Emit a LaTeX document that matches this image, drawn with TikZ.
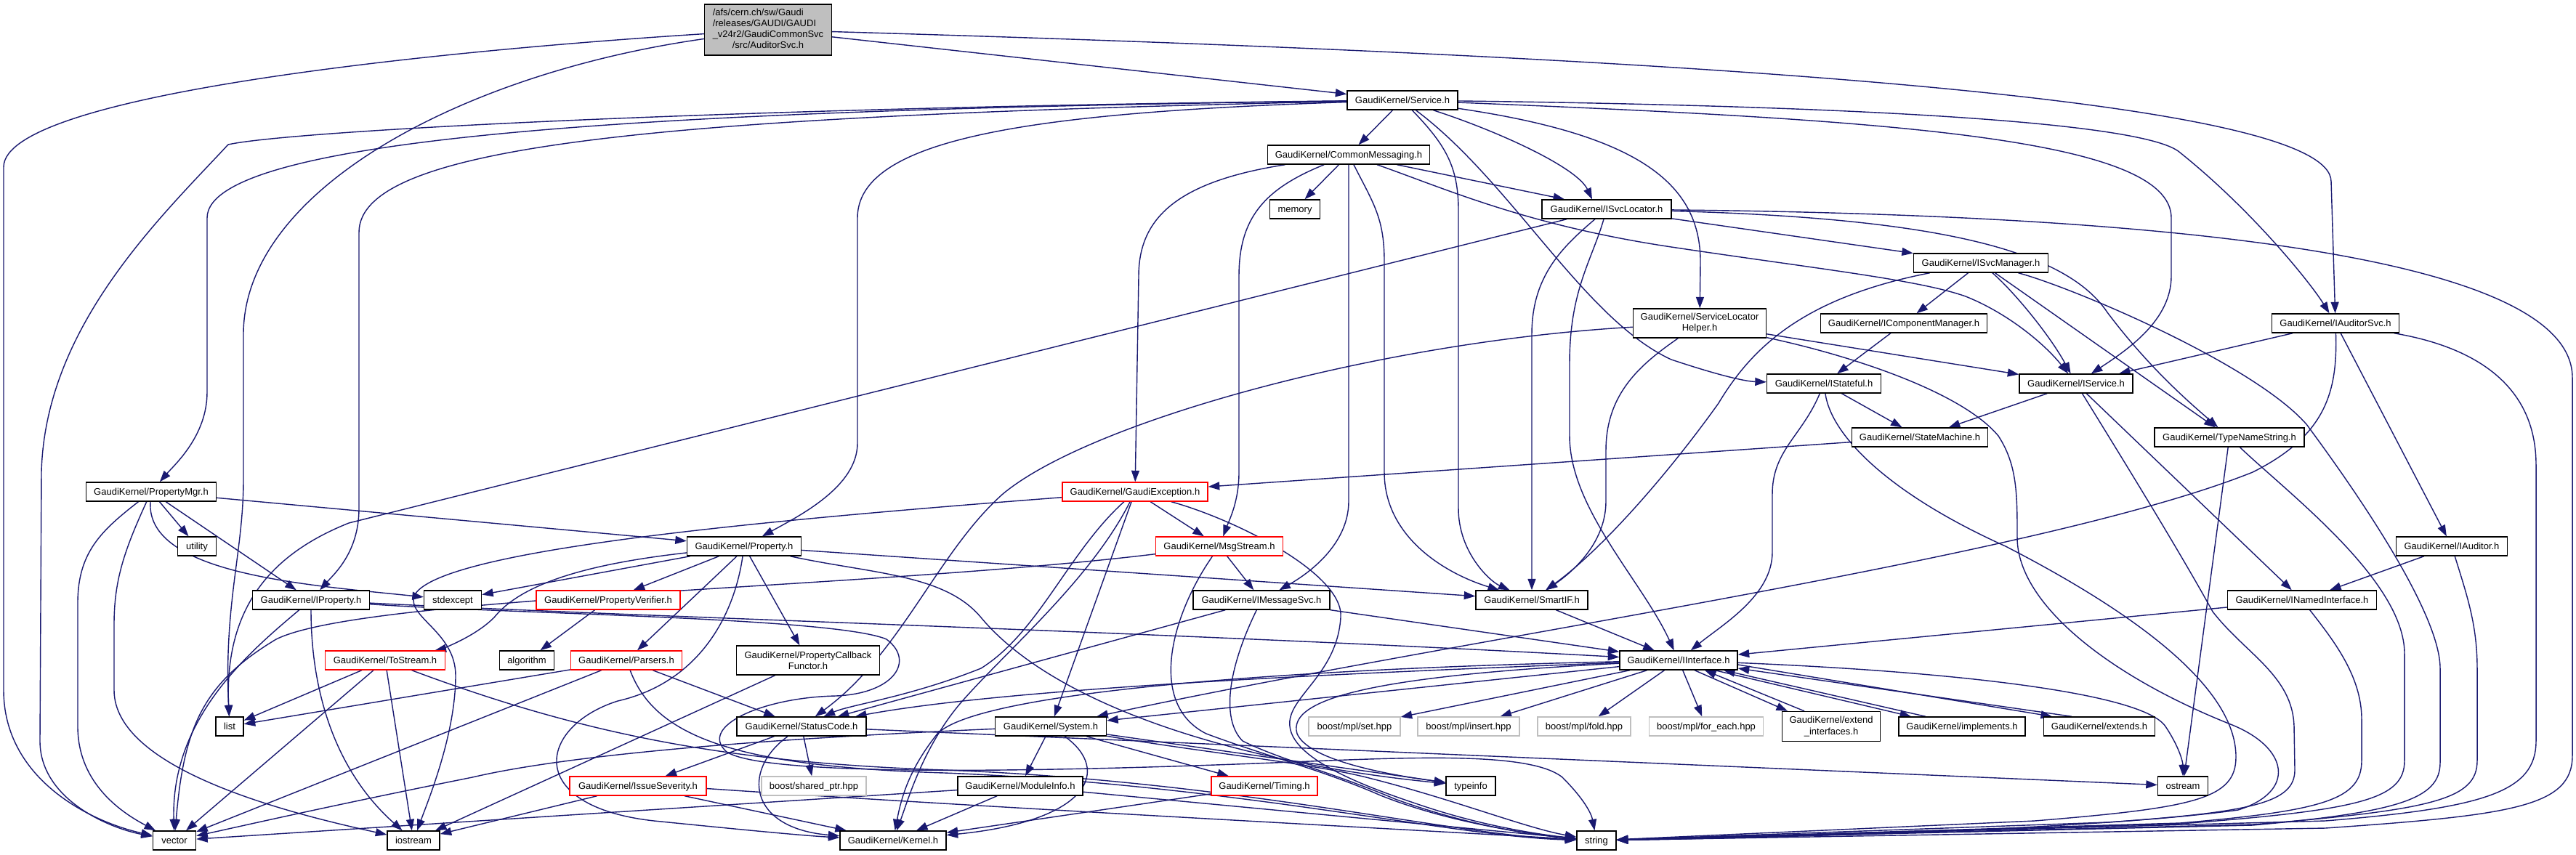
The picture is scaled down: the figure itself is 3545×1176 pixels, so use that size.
\documentclass[tikz,border=0pt]{standalone}
\usepackage{fontspec}
\setmainfont{Liberation Sans}
\usetikzlibrary{arrows.meta}
\definecolor{edgec}{HTML}{191970}
\definecolor{rootfill}{HTML}{BFBFBF}
\definecolor{lgray}{HTML}{BFBFBF}
\newcommand\gfont{\fontsize{3.7pt}{4.3pt}\selectfont}
\pgfdeclarelayer{bgfill}
\pgfdeclarelayer{edges}
\pgfsetlayers{bgfill,edges,main}
\tikzset{
  boxbase/.style={draw=black, fill=white, line width=0.4pt, inner sep=0pt, minimum height=2.6mm, font=\gfont},
  nbox/.style={boxbase, text height=2.7pt, text depth=0.3pt},
  rbox/.style={nbox, draw=red},
  gbox/.style={nbox, draw=lgray},
  mbox/.style={boxbase, align=center, minimum height=4mm},
  edg/.style={draw=edgec, line width=0.4pt, -{Triangle[length=1.55mm,width=1.1mm]}},
}
\begin{document}
\begin{tikzpicture}[x=0.1mm, y=-0.1mm]
\begin{pgfonlayer}{bgfill}
\fill[white] (0,0) rectangle (3545,1176);
\end{pgfonlayer}
\useasboundingbox (0,0) rectangle (3545,1176);

% ---------- nodes ----------
\node[boxbase, fill=rootfill, minimum width=17.45mm, minimum height=7mm] (R) at (1057,41)
  {\begin{tabular}{@{}l@{}}/afs/cern.ch/sw/Gaudi\\/releases/GAUDI/GAUDI\\\_v24r2/GaudiCommonSvc\\\multicolumn{1}{@{}c@{}}{/src/AuditorSvc.h}\end{tabular}};
\node[nbox, minimum width=15.2mm] (Sv) at (1930,138) {GaudiKernel/Service.h};
\node[nbox, minimum width=22.3mm] (CM) at (1856,213) {GaudiKernel/CommonMessaging.h};
\node[nbox, minimum width=6.9mm] (mem) at (1782,288) {memory};
\node[nbox, minimum width=17.8mm] (SL) at (2211,288) {GaudiKernel/ISvcLocator.h};
\node[mbox, minimum width=18.3mm] (SLH) at (2339,445) {GaudiKernel/ServiceLocator\\Helper.h};
\node[nbox, minimum width=18.5mm] (SM) at (2726,362) {GaudiKernel/ISvcManager.h};
\node[nbox, minimum width=22.9mm] (ICM) at (2620,445) {GaudiKernel/IComponentManager.h};
\node[nbox, minimum width=17.5mm] (AS) at (3214,445) {GaudiKernel/IAuditorSvc.h};
\node[nbox, minimum width=15.7mm] (ISt) at (2510,528) {GaudiKernel/IStateful.h};
\node[nbox, minimum width=15.6mm] (IS) at (2857,528) {GaudiKernel/IService.h};
\node[nbox, minimum width=18.7mm] (StM) at (2642,602) {GaudiKernel/StateMachine.h};
\node[nbox, minimum width=20.6mm] (TNS) at (3068,602) {GaudiKernel/TypeNameString.h};
\node[nbox, minimum width=15.3mm] (IA) at (3374,752) {GaudiKernel/IAuditor.h};
\node[nbox, minimum width=20.5mm] (INI) at (3168,826) {GaudiKernel/INamedInterface.h};
\node[nbox, minimum width=16.2mm] (II) at (2310,909) {GaudiKernel/IInterface.h};
\node[gbox, minimum width=15.7mm] (FE) at (2348,1000) {boost/mpl/for\_each.hpp};
\node[mbox, minimum width=13.5mm, minimum height=4.1mm] (EI) at (2520,1000) {GaudiKernel/extend\\\_interfaces.h};
\node[nbox, minimum width=17.4mm] (Imp) at (2700,1000) {GaudiKernel/implements.h};
\node[nbox, minimum width=15.3mm] (Ext) at (2889,1000) {GaudiKernel/extends.h};
\node[nbox, minimum width=6.9mm] (ost) at (3004,1082) {ostream};
\node[nbox, minimum width=5.4mm] (str) at (2197,1157) {string};
\node[rbox, minimum width=20.0mm] (GE) at (1562,677) {GaudiKernel/GaudiException.h};
\node[rbox, minimum width=17.5mm] (MS) at (1678,752) {GaudiKernel/MsgStream.h};
\node[nbox, minimum width=18.8mm] (IMS) at (1736,826) {GaudiKernel/IMessageSvc.h};
\node[nbox, minimum width=15.4mm] (SIF) at (2108,826) {GaudiKernel/SmartIF.h};
\node[nbox, minimum width=15.3mm] (Sys) at (1446,1000) {GaudiKernel/System.h};
\node[gbox, minimum width=12.6mm] (set) at (1864,1000) {boost/mpl/set.hpp};
\node[gbox, minimum width=14.0mm] (ins) at (2021,1000) {boost/mpl/insert.hpp};
\node[gbox, minimum width=12.8mm] (fold) at (2180,1000) {boost/mpl/fold.hpp};
\node[nbox, minimum width=17.2mm] (MI) at (1404,1082) {GaudiKernel/ModuleInfo.h};
\node[rbox, minimum width=14.6mm] (Tim) at (1740,1082) {GaudiKernel/Timing.h};
\node[nbox, minimum width=6.8mm] (ti) at (2024,1082) {typeinfo};
\node[nbox, minimum width=14.6mm] (Ker) at (1229,1157) {GaudiKernel/Kernel.h};
\node[nbox, minimum width=17.8mm] (SC) at (1103,1000) {GaudiKernel/StatusCode.h};
\node[nbox, minimum width=17.9mm] (PM) at (208,677) {GaudiKernel/PropertyMgr.h};
\node[nbox, minimum width=5.3mm] (util) at (271,752) {utility};
\node[nbox, minimum width=15.7mm] (Prop) at (1024,752) {GaudiKernel/Property.h};
\node[nbox, minimum width=16.1mm] (IP) at (428,826) {GaudiKernel/IProperty.h};
\node[nbox, minimum width=7.9mm] (sexc) at (623,826) {stdexcept};
\node[rbox, minimum width=19.8mm] (PV) at (837,826) {GaudiKernel/PropertyVerifier.h};
\node[rbox, minimum width=16.5mm] (TS) at (530,909) {GaudiKernel/ToStream.h};
\node[nbox, minimum width=7.5mm] (alg) at (725,909) {algorithm};
\node[rbox, minimum width=15.3mm] (Pars) at (862,909) {GaudiKernel/Parsers.h};
\node[mbox, minimum width=19.7mm] (PCF) at (1112,909) {GaudiKernel/PropertyCallback\\Functor.h};
\node[nbox, minimum width=3.8mm] (list) at (316,1000) {list};
\node[rbox, minimum width=18.8mm] (ISev) at (878,1082) {GaudiKernel/IssueSeverity.h};
\node[gbox, minimum width=14.4mm] (shp) at (1120,1082) {boost/shared\_ptr.hpp};
\node[nbox, minimum width=5.9mm] (vec) at (240,1157) {vector};
\node[nbox, minimum width=7.2mm] (ios) at (569,1157) {iostream};

\begin{pgfonlayer}{edges}
% ---------- edges: root ----------
\draw[edg] (R) .. controls (600,70) and (5,130) .. (5,230) -- (5,950) .. controls (5,1070) and (120,1130) .. (vec);
\draw[edg] (R) .. controls (640,100) and (335,260) .. (335,460) -- (335,660) .. controls (335,760) and (308,830) .. (list);
\draw[edg] (R) -- (Sv);
\draw[edg] (R) .. controls (2400,80) and (3208,140) .. (3208,250) -- (AS);

% ---------- Service.h ----------
\draw[edg] (Sv) -- (CM);
\draw[edg] (Sv) .. controls (2060,180) and (2170,230) .. ([xshift=-2mm]SL.north);
\draw[edg] (Sv) .. controls (2250,185) and (2340,250) .. (2340,360) -- (SLH);
\draw[edg] (Sv) .. controls (1990,200) and (2007,230) .. (2007,290) -- (2007,700) .. controls (2007,760) and (2050,800) .. (SIF);
\draw[edg] (Sv) .. controls (2080,250) and (2180,440) .. (2300,495) .. controls (2360,515) and (2400,525) .. (ISt);
\draw[edg] (Sv) .. controls (2600,165) and (2988,190) .. (2988,300) -- (2988,380) .. controls (2988,440) and (2930,480) .. (IS);
\draw[edg] (Sv) .. controls (2500,145) and (2950,165) .. (3000,210) .. controls (3100,290) and (3180,390) .. (AS);
\draw[edg] (Sv) .. controls (1420,155) and (1180,190) .. (1180,300) -- (1180,610) .. controls (1180,670) and (1100,710) .. (Prop);
\draw[edg] (Sv) .. controls (1000,150) and (285,180) .. (285,300) -- (285,540) .. controls (285,600) and (240,640) .. (PM);
\draw[edg] (Sv) .. controls (900,160) and (494,200) .. (494,320) -- (494,700) .. controls (494,760) and (460,790) .. (IP);
\draw[edg] (Sv) .. controls (1000,148) and (400,180) .. (314,199) .. controls (220,300) and (62,450) .. (57,650) -- (55,1020) .. controls (55,1100) and (150,1140) .. (vec);

% ---------- CommonMessaging.h ----------
\draw[edg] (CM) .. controls (1620,250) and (1567,300) .. (1567,380) -- (GE);
\draw[edg] (CM) .. controls (1740,260) and (1705,300) .. (1705,380) -- (1705,650) .. controls (1705,690) and (1692,715) .. (MS);
\draw[edg] (CM) -- (mem);
\draw[edg] (CM.south) -- (1856,690) .. controls (1856,750) and (1800,790) .. (IMS);
\draw[edg] (CM) .. controls (1890,280) and (1905,300) .. (1905,360) -- (1905,650) .. controls (1905,740) and (1990,790) .. (SIF);
\draw[edg] (CM) .. controls (1990,260) and (2100,310) .. (2300,340) .. controls (2500,370) and (2640,385) .. (2705,408) .. controls (2765,432) and (2815,475) .. (IS);
\draw[edg] (CM) -- ([xshift=-5.8mm]SL.north);

% ---------- ISvcLocator.h ----------
\draw[edg] (SL) -- (SM);
\draw[edg] (SL) .. controls (2650,300) and (2840,340) .. (2900,430) .. controls (2960,510) and (3020,560) .. (TNS);
\draw[edg] (SL) .. controls (2900,295) and (3540,340) .. (3540,520) -- (3540,1040) .. controls (3540,1110) and (3460,1122) .. (3200,1140) -- (str);
\draw[edg] (SL) -- (480,720) .. controls (380,760) and (308,830) .. (list);
\draw[edg] (SL) .. controls (2150,340) and (2108,380) .. (2108,460) -- (SIF);
\draw[edg] (SL) .. controls (2190,360) and (2160,400) .. (2160,500) -- (2160,600) .. controls (2160,700) and (2260,800) .. (II);

% ---------- ISvcManager.h ----------
\draw[edg] (SM) .. controls (2480,410) and (2410,480) .. (2365,555) .. controls (2290,660) and (2200,760) .. (SIF);
\draw[edg] (SM) -- (ICM);
\draw[edg] (SM) .. controls (2770,400) and (2820,460) .. (IS);
\draw[edg] (SM) -- (TNS);
\draw[edg] (SM) .. controls (2850,395) and (3100,500) .. (3174,584) .. controls (3260,700) and (3358,850) .. (3358,920) -- (3358,1050) .. controls (3358,1100) and (3300,1118) .. (3100,1136) -- (str);
\draw[edg] (ICM) -- (ISt);

% ---------- ServiceLocatorHelper.h ----------
\draw[edg] (SLH) -- (IS);
\draw[edg] (SLH) .. controls (2260,500) and (2210,540) .. (2210,620) -- (2210,690) .. controls (2210,750) and (2160,790) .. (SIF);
\draw[edg] (SLH) .. controls (1900,470) and (1500,580) .. (1380,680) .. controls (1290,760) and (1240,900) .. (SC);
\draw[edg] (SLH) .. controls (2550,490) and (2700,540) .. (2750,600) .. controls (2776,640) and (2776,680) .. (2776,740) .. controls (2776,830) and (2900,930) .. (3072,998) .. controls (3150,1030) and (3160,1090) .. (3080,1115) .. controls (2900,1140) and (2500,1152) .. (str);

% ---------- IAuditorSvc.h ----------
\draw[edg] (AS) -- (IS);
\draw[edg] (AS) -- (IA);
\draw[edg] (AS) .. controls (3420,480) and (3490,540) .. (3490,640) -- (3490,1020) .. controls (3490,1090) and (3420,1112) .. (3200,1130) -- (str);
\draw[edg] (AS) .. controls (3217,540) and (3200,600) .. (3100,650) .. controls (2800,770) and (2000,880) .. (Sys);

% ---------- IStateful / IService ----------
\draw[edg] (ISt) -- (StM);
\draw[edg] (ISt) .. controls (2480,600) and (2439,620) .. (2439,680) -- (2439,760) .. controls (2439,820) and (2370,860) .. (II);
\draw[edg] (ISt) .. controls (2520,600) and (2600,680) .. (2760,752) .. controls (2950,850) and (3077,950) .. (3077,1042) .. controls (3077,1100) and (3020,1112) .. (2800,1130) -- (str);
\draw[edg] (IS) -- (StM);
\draw[edg] (IS) -- (INI);
\draw[edg] (IS) .. controls (2920,630) and (3000,760) .. (3045,842) .. controls (3090,900) and (3155,930) .. (3157,1000) -- (3158,1060) .. controls (3158,1105) and (3100,1118) .. (2900,1132) -- (str);
\draw[edg] (StM) -- (GE);

% ---------- TypeNameString / IAuditor / INamedInterface ----------
\draw[edg] (TNS) -- (ost);
\draw[edg] (TNS) .. controls (3150,680) and (3309,800) .. (3309,900) -- (3309,1047) .. controls (3309,1100) and (3250,1115) .. (3000,1134) -- (str);
\draw[edg] (IA) -- (INI);
\draw[edg] (IA) .. controls (3395,820) and (3409,860) .. (3409,920) -- (3409,1047) .. controls (3409,1100) and (3350,1115) .. (3100,1135) -- (str);
\draw[edg] (INI) -- (II);
\draw[edg] (INI) .. controls (3210,880) and (3250,930) .. (3250,990) -- (3250,1047) .. controls (3250,1100) and (3200,1116) .. (3000,1133) -- (str);

% ---------- IInterface.h ----------
\draw[edg] (II) -- (FE);
\draw[edg] ([xshift=2.2mm]II.south) -- ([xshift=-6mm]EI.north);
\draw[edg] ([xshift=-3.7mm]EI.north) -- ([xshift=3.6mm]II.south);
\draw[edg] ([xshift=5mm]II.south) -- ([xshift=-7mm]Imp.north);
\draw[edg] ([xshift=-5mm]Imp.north) -- ([xshift=6.2mm]II.south);
\draw[edg] ([yshift=-0.6mm]II.east) -- ([xshift=-6.5mm]Ext.north);
\draw[edg] ([xshift=-3.8mm]Ext.north) -- ([yshift=-1.1mm]II.east);
\draw[edg] (II) .. controls (2700,925) and (2950,955) .. (2980,1000) .. controls (3000,1030) and (3004,1050) .. (ost);
\draw[edg] (II) -- (set);
\draw[edg] (II) -- (ins);
\draw[edg] (II) -- (fold);
\draw[edg] (II) -- (Sys);
\draw[edg] (II) .. controls (1900,925) and (1400,945) .. (SC);
\draw[edg] (II) .. controls (1800,920) and (1350,950) .. (1290,1010) .. controls (1250,1060) and (1240,1100) .. (Ker);
\draw[edg] (II) .. controls (1900,930) and (1770,960) .. (1785,1010) .. controls (1800,1045) and (1900,1065) .. (ti);

% ---------- PropertyMgr.h ----------
\draw[edg] (PM) -- (util);
\draw[edg] (PM) -- (Prop);
\draw[edg] (PM) -- (IP);
\draw[edg] (PM) .. controls (200,790) and (420,805) .. (sexc);
\draw[edg] (PM) .. controls (140,730) and (107,760) .. (107,830) -- (107,1000) .. controls (107,1080) and (170,1120) .. (vec);
\draw[edg] (PM) .. controls (170,760) and (157,800) .. (157,860) -- (157,950) .. controls (157,1060) and (400,1120) .. (ios);

% ---------- Property.h ----------
\draw[edg] (Prop) -- (sexc);
\draw[edg] (Prop) -- (PV);
\draw[edg] (Prop) .. controls (820,775) and (720,800) .. (680,850) .. controls (650,880) and (600,895) .. (TS);
\draw[edg] ([xshift=-1mm]Prop.south) -- ([xshift=1.5mm]Pars.north);
\draw[edg] (Prop) -- (PCF);
\draw[edg] (Prop) -- (SIF);
\draw[edg] (Prop) .. controls (1010,850) and (960,940) .. (850,965) .. controls (740,1000) and (720,1110) .. (900,1130) .. controls (1000,1140) and (1100,1150) .. (Ker);
\draw[edg] (Prop) .. controls (1200,790) and (1300,790) .. (1350,850) .. controls (1450,970) and (1700,1050) .. (ti);

% ---------- IProperty.h ----------
\draw[edg] (IP) .. controls (900,850) and (1600,870) .. (II);
\draw[edg] (IP) .. controls (700,845) and (1150,850) .. (1220,880) .. controls (1260,910) and (1230,955) .. (1150,958) .. controls (1050,960) and (960,1000) .. (1000,1035) .. controls (1050,1068) and (1400,1063) .. (1700,1052) .. controls (1900,1045) and (2100,1030) .. (2150,1070) .. controls (2180,1100) and (2190,1120) .. (str);
\draw[edg] (IP) .. controls (340,900) and (235,990) .. (vec);
\draw[edg] (IP) .. controls (428,950) and (460,1060) .. (ios);

% ---------- PropertyVerifier / ToStream / Parsers / Callback ----------
\draw[edg] (PV) -- (alg);
\draw[edg] (TS) -- (list);
\draw[edg] (TS) -- (vec);
\draw[edg] (TS) -- (ios);
\draw[edg] (TS) .. controls (800,1010) and (1000,1050) .. (1300,1060) .. controls (1700,1075) and (2000,1150) .. (str);
\draw[edg] (Pars) -- (list);
\draw[edg] (Pars) -- (vec);
\draw[edg] (Pars) -- (SC);
\draw[edg] (Pars) .. controls (900,1010) and (1000,1055) .. (1300,1064) .. controls (1700,1080) and (2000,1152) .. (str);
\draw[edg] (PCF) -- (ios);

% ---------- GaudiException / MsgStream / IMessageSvc ----------
\draw[edg] (GE) -- (MS);
\draw[edg] (GE) -- (Sys);
\draw[edg] (GE) .. controls (1470,760) and (1430,870) .. (1350,920) .. controls (1250,960) and (1170,970) .. (SC);
\draw[edg] (GE) .. controls (1500,800) and (1380,900) .. (1320,970) .. controls (1270,1030) and (1250,1100) .. (Ker);
\draw[edg] (GE) .. controls (1000,720) and (600,760) .. (570,820) .. controls (560,850) and (627,870) .. (627,930) .. controls (627,1010) and (590,1100) .. (ios);
\draw[edg] (GE) .. controls (1700,715) and (1850,790) .. (1845,850) .. controls (1840,930) and (1770,960) .. (1775,1000) .. controls (1780,1050) and (1900,1090) .. (1960,1110) .. controls (2050,1140) and (2130,1150) .. (str);
\draw[edg] (MS) -- (IMS);
\draw[edg] (MS) .. controls (1200,810) and (500,820) .. (380,880) .. controls (280,940) and (253,1000) .. (vec);
\draw[edg] (MS) .. controls (1610,850) and (1580,970) .. (1660,1010) .. controls (1740,1040) and (1820,1060) .. (1900,1095) .. controls (2000,1135) and (2120,1150) .. (str);
\draw[edg] (IMS) -- (II);
\draw[edg] (IMS) -- (SC);
\draw[edg] (IMS) .. controls (1690,920) and (1680,990) .. (1710,1020) .. controls (1760,1045) and (1830,1062) .. (1920,1100) .. controls (2030,1140) and (2120,1150) .. (str);
\draw[edg] (SIF) -- (II);

% ---------- System / ModuleInfo / Timing ----------
\draw[edg] (Sys) -- (MI);
\draw[edg] (Sys) -- (Tim);
\draw[edg] (Sys) .. controls (1530,1060) and (1500,1130) .. (Ker);
\draw[edg] (Sys) .. controls (1100,1015) and (800,1035) .. (650,1070) .. controls (450,1110) and (320,1140) .. (vec);
\draw[edg] (Sys) -- (ti);
\draw[edg] (Sys) .. controls (1650,1035) and (1800,1050) .. (1880,1070) .. controls (2000,1100) and (2100,1140) .. (str);
\draw[edg] (MI) -- (vec);
\draw[edg] (MI) -- (Ker);
\draw[edg] (MI) -- (str);
\draw[edg] (Tim) -- (Ker);

% ---------- StatusCode / IssueSeverity ----------
\draw[edg] (SC) -- (ISev);
\draw[edg] (SC) -- (shp);
\draw[edg] (SC) .. controls (1020,1060) and (1030,1140) .. (Ker);
\draw[edg] (SC) -- (ost);
\draw[edg] (ISev) -- (ios);
\draw[edg] (ISev) -- (Ker);
\draw[edg] ([yshift=-0.35mm]ISev.east) .. controls (1300,1108) and (1900,1140) .. (str);
\end{pgfonlayer}
\end{tikzpicture}
\end{document}
